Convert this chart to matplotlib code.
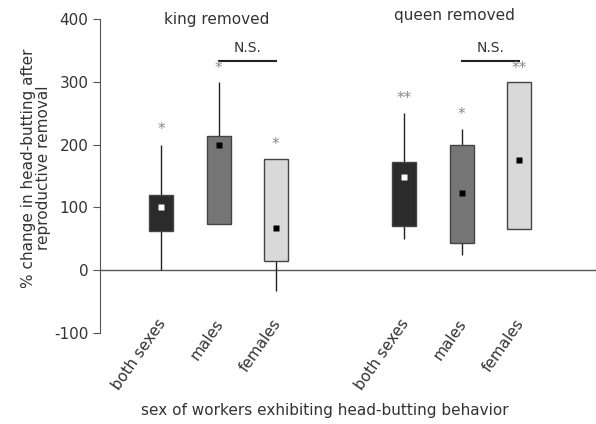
import matplotlib.pyplot as plt
import numpy as np

plt.rcParams['axes.unicode_minus'] = False

# data
labels = ['both sexes', 'males', 'females', 'both sexes', 'males', 'females']
pos = [0, 1, 2, 4.25, 5.25, 6.25]
box_lo = [63, 73, 15, 70, 43, 65]
box_hi = [120, 213, 177, 173, 200, 300]
whisk_lo = [0, 73, -33, 50, 25, 65]
whisk_hi = [200, 300, 177, 250, 225, 300]
means = [100, 200, 67, 148, 123, 175]
stars = ['*', '*', '*', '**', '*', '**']
star_y = [212, 310, 188, 262, 236, 310]
colors = ['#2b2b2b', '#767676', '#d9d9d9', '#2b2b2b', '#767676', '#d9d9d9']
mean_col = ['white', 'black', 'black', 'white', 'black', 'black']

fig = plt.figure(figsize=(5.96, 4.24), dpi=100)
ax = fig.add_axes([0.168, 0.2146, 0.832, 0.7404])

txt = '#333333'
ax.axhline(0, color='#555555', lw=1, zorder=1)
for i in range(6):
    ax.vlines(pos[i], whisk_lo[i], whisk_hi[i], color='#222222', lw=1, zorder=2)
    ax.bar(pos[i], box_hi[i] - box_lo[i], bottom=box_lo[i], width=0.42,
           color=colors[i], edgecolor='#444444', lw=1, zorder=3)
    ax.plot(pos[i], means[i], 's', color=mean_col[i], ms=5, mec='none', zorder=4)
    ax.text(pos[i], star_y[i], stars[i], ha='center', va='bottom',
            color='#888888', fontsize=11)
    # rotated category labels sit a bit above the axes bottom
    ax.text(pos[i] + 0.03, -80, labels[i], rotation=55, ha='right', va='center',
            rotation_mode='anchor', color=txt, fontsize=11, clip_on=False)

# N.S. bars
for a, b in [(1, 2), (5.25, 6.25)]:
    ax.plot([a, b], [334, 334], color='#222222', lw=1.5)
    ax.text((a + b) / 2, 342, 'N.S.', ha='center', va='bottom', color=txt, fontsize=10)

ax.text(0.96, 400, 'king removed', ha='center', va='center', color=txt, fontsize=11)
ax.text(5.12, 405, 'queen removed', ha='center', va='center', color=txt, fontsize=11)

ax.set_xlim(-1.07, 7.6)
ax.set_ylim(-100, 400)
ax.set_yticks([-100, 0, 100, 200, 300, 400])
ax.tick_params(axis='y', direction='out', length=5, colors='#555555',
               labelcolor=txt, labelsize=11)
ax.set_xticks([])
for s in ['top', 'right', 'bottom']:
    ax.spines[s].set_visible(False)
ax.spines['left'].set_color('#555555')

ax.set_ylabel('% change in head-butting after\nreproductive removal',
              color=txt, fontsize=11, linespacing=0.95)
ax.yaxis.set_label_coords(-0.1, 0.525)
fig.text(0.545, 1 - 411 / 424, 'sex of workers exhibiting head-butting behavior',
         ha='center', va='center', color=txt, fontsize=11)

fig.savefig('out.png', dpi=100)
